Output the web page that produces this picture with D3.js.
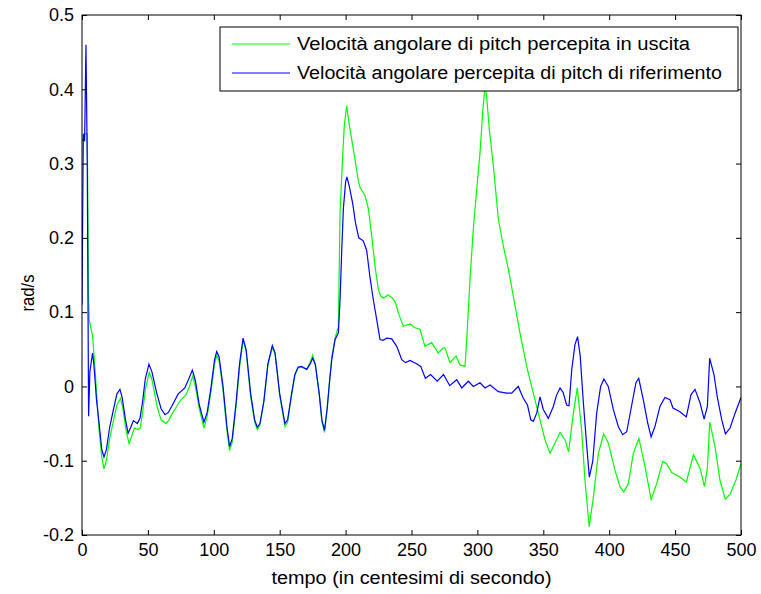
<!DOCTYPE html>
<html><head><meta charset="utf-8">
<script src="https://cdn.jsdelivr.net/npm/d3@7"></script>
<style>body{margin:0;background:#fff}svg{display:block}text{font-family:"Liberation Sans",Arial,sans-serif}</style>
</head><body><svg id="c" width="761" height="594"></svg>
<script>
const xTicks=[0,50,100,150,200,250,300,350,400,450,500];
const yTicks=[-0.2,-0.1,0,0.1,0.2,0.3,0.4,0.5];
const yTickLabels=["-0.2","-0.1","0","0.1","0.2","0.3","0.4","0.5"];
const seriesNames=["Velocità angolare di pitch percepita in uscita","Velocità angolare percepita di pitch di riferimento"];
const seriesColors=["#00ff00","#0000ff"];
const xLabel="tempo (in centesimi di secondo)";
const yLabel="rad/s";

const tempoUscita=[0,2,4,5,5.5,8,10,13,15,16.7,18.5,21,24,26.5,29.3,31,33.5,35.7,37.5,39.7,42.2,44.2,46,48,51,53,57,60,63.7,66,68,71.8,75,79,81.5,84,86,89,92.5,95,98,100.5,102.2,104,107,110,112,114,117,119.5,122.2,124.5,128,131,133,135,138,141,144.4,146.5,150,154,156,159,161.5,164,166.5,170.5,173,175,177,180,182,184,186,188,189.5,192,194.5,195.8,197.8,199,200.8,202.5,204.6,207.1,209.6,210.9,214.7,217.3,219.8,222.3,224.8,226.5,228.6,232.4,236,238,240,243.8,248.9,252.7,256.4,260.2,265.3,270.3,274.1,275.4,279.2,283.8,286.8,290.6,291.9,294.4,296.9,299.5,302,304,305.8,307,309,312.1,315.9,319.7,323.5,327.2,332.3,337.4,342.4,347.5,351.3,355.1,358.9,362.7,366.5,369.2,372.8,375.8,379.1,381.6,384.8,388,391.8,395.8,399.3,404.4,408.2,411,414.5,418.3,422.5,427.2,431.8,436,440.6,443.6,447.4,453.7,458.5,463.9,468.9,472.3,474.5,476.3,480.3,484,488.1,491.7,496.2,500];
const valoriUscita=[0.33,0.34,0.34,0.12,0.09,0.068,0.02,-0.06,-0.095,-0.111,-0.1,-0.07,-0.045,-0.025,-0.016,-0.03,-0.06,-0.077,-0.068,-0.056,-0.058,-0.056,-0.035,-0.005,0.019,0.01,-0.027,-0.045,-0.05,-0.045,-0.038,-0.027,-0.018,-0.011,0,0.014,0,-0.03,-0.056,-0.04,-0.005,0.03,0.042,0.035,-0.005,-0.06,-0.086,-0.075,-0.025,0.025,0.062,0.048,-0.015,-0.048,-0.058,-0.052,-0.02,0.028,0.053,0.043,-0.012,-0.054,-0.048,-0.012,0.015,0.025,0.026,0.023,0.032,0.042,0.03,-0.01,-0.047,-0.062,-0.03,0.01,0.04,0.065,0.08,0.234,0.311,0.351,0.378,0.355,0.333,0.306,0.277,0.268,0.257,0.239,0.203,0.162,0.131,0.122,0.119,0.123,0.118,0.112,0.099,0.081,0.084,0.079,0.077,0.054,0.059,0.045,0.052,0.052,0.032,0.041,0.029,0.027,0.063,0.144,0.212,0.266,0.315,0.369,0.405,0.39,0.347,0.297,0.225,0.189,0.158,0.122,0.072,0.027,-0.009,-0.045,-0.072,-0.09,-0.076,-0.062,-0.072,-0.088,-0.036,-0.002,-0.059,-0.126,-0.189,-0.149,-0.09,-0.064,-0.076,-0.113,-0.135,-0.142,-0.131,-0.09,-0.07,-0.108,-0.152,-0.131,-0.101,-0.104,-0.116,-0.122,-0.129,-0.092,-0.11,-0.135,-0.11,-0.048,-0.081,-0.126,-0.152,-0.145,-0.126,-0.104];

const tempoRif=[0,1,2,3,4,5,6,8,9,11,13,15,16.7,18.5,21,24,26.5,28.8,30.5,33,35,37,39,42,44,46,48,50.8,53,56.7,60,63,65.5,68,73,78,81,83.7,86,89,92.5,95,98,100.5,102.2,104,107,110,112,114,117,119.5,122.2,124.5,128,131,133,135,138,141,144.4,146.5,150,154,156,159,161.5,164,166.5,170.5,173,175,177,180,182,184,186,188,189.5,192,194.5,195.8,197,198.3,200,201,203,205.5,207.5,210,213.4,216,218.5,221,223.6,226.1,228.5,231.2,235,238.8,242.6,245.5,248.9,253.5,257,260.5,264.5,269.5,274.3,279,284.3,288.1,293.1,296.9,302,305.8,309.6,315.9,322.2,326,331,334.8,338,340.5,342.4,345,347.5,350,353.8,357.6,360,362.7,365,367.7,369.5,371.6,374,376,378,380.4,383,384.9,387.5,390.5,393.5,396,399.3,403.1,406.9,410.2,413.3,417.1,420.3,422.4,425.9,429.2,431.8,434.7,438.5,442.3,446.1,448.4,453.7,458.5,462.1,465.1,468.9,472,474.5,476.2,479.5,482,485.4,488.2,491.7,495.5,500];
const valoriRif=[0.11,0.34,0.33,0.46,0.3,-0.04,0.02,0.045,0.03,-0.018,-0.05,-0.085,-0.095,-0.085,-0.055,-0.03,-0.01,-0.004,-0.015,-0.045,-0.063,-0.055,-0.046,-0.05,-0.043,-0.02,0.01,0.03,0.02,-0.009,-0.03,-0.038,-0.035,-0.027,-0.01,-0.002,0.01,0.022,0.008,-0.025,-0.048,-0.035,0,0.035,0.047,0.04,0,-0.055,-0.081,-0.07,-0.02,0.03,0.065,0.05,-0.01,-0.045,-0.055,-0.05,-0.02,0.03,0.055,0.045,-0.01,-0.05,-0.045,-0.01,0.016,0.026,0.027,0.023,0.03,0.038,0.03,-0.01,-0.045,-0.059,-0.03,0.01,0.036,0.063,0.072,0.117,0.18,0.239,0.275,0.282,0.268,0.245,0.22,0.2,0.196,0.183,0.147,0.117,0.09,0.063,0.062,0.065,0.064,0.054,0.036,0.032,0.035,0.031,0.027,0.011,0.016,0.007,0.016,0.001,0.009,-0.002,0.007,0,0.005,-0.002,0.002,-0.007,-0.009,-0.009,0,-0.016,-0.025,-0.045,-0.047,-0.036,-0.014,-0.031,-0.043,-0.027,-0.012,-0.002,-0.008,-0.025,-0.026,0.023,0.056,0.067,0.041,-0.022,-0.081,-0.122,-0.101,-0.036,0,0.01,0,-0.031,-0.054,-0.065,-0.061,-0.025,0.005,0.011,-0.018,-0.049,-0.068,-0.054,-0.027,-0.015,-0.018,-0.029,-0.034,-0.041,-0.011,-0.004,-0.022,-0.044,-0.027,0.038,0.016,-0.014,-0.045,-0.064,-0.056,-0.036,-0.015];

const L=82,R=741,T=15,B=535;
const x=d3.scaleLinear().domain([0,500]).range([L,R]);
const y=d3.scaleLinear().domain([-0.2,0.5]).range([B,T]);
const svg=d3.select("#c");
svg.append("rect").attr("width",761).attr("height",594).attr("fill","#fff");

svg.append("clipPath").attr("id","clp").append("rect").attr("x",L).attr("y",T).attr("width",R-L).attr("height",B-T);
const line=d3.line().x(d=>x(d[0])).y(d=>y(d[1]));
const dataU=tempoUscita.map((t,i)=>[t,valoriUscita[i]]);
const dataR=tempoRif.map((t,i)=>[t,valoriRif[i]]);
const g=svg.append("g").attr("clip-path","url(#clp)");
g.append("path").datum(dataU).attr("d",line).attr("fill","none").attr("stroke",seriesColors[0]).attr("stroke-width",1.2);
g.append("path").datum(dataR).attr("d",line).attr("fill","none").attr("stroke",seriesColors[1]).attr("stroke-width",1.2);

const fs=18;
const axB=svg.append("g").attr("transform",`translate(0,${B})`).call(d3.axisBottom(x).tickValues(xTicks).tickSize(-5).tickPadding(8).tickFormat(d3.format("d")));
const axT=svg.append("g").attr("transform",`translate(0,${T})`).call(d3.axisTop(x).tickValues(xTicks).tickSize(-5).tickFormat(""));
const axL=svg.append("g").attr("transform",`translate(${L},0)`).call(d3.axisLeft(y).tickValues(yTicks).tickSize(-5).tickPadding(8).tickFormat((d,i)=>yTickLabels[i]));
const axR=svg.append("g").attr("transform",`translate(${R},0)`).call(d3.axisRight(y).tickValues(yTicks).tickSize(-5).tickFormat(""));
[axB,axT,axL,axR].forEach(a=>{a.selectAll("path").remove();a.selectAll("line").attr("stroke","#000");a.selectAll("text").attr("font-size",fs).attr("fill","#000").attr("font-family","Liberation Sans, Arial, sans-serif");});
svg.append("rect").attr("x",L).attr("y",T).attr("width",R-L).attr("height",B-T).attr("fill","none").attr("stroke","#000").attr("stroke-width",1);

svg.append("text").attr("x",(L+R)/2).attr("y",584).attr("text-anchor","middle").attr("font-size",18).attr("textLength",280).attr("lengthAdjust","spacingAndGlyphs").text(xLabel);
svg.append("text").attr("transform",`translate(34,293) rotate(-90)`).attr("text-anchor","middle").attr("font-size",18).attr("textLength",37).attr("lengthAdjust","spacingAndGlyphs").text(yLabel);

const lg=svg.append("g");
lg.append("rect").attr("x",220).attr("y",27).attr("width",518).attr("height",64).attr("fill","#fff").attr("stroke","#000").attr("stroke-width",1);
const legW=[393,425];
[44,73].forEach((yy,i)=>{
  lg.append("line").attr("x1",232).attr("x2",290).attr("y1",yy).attr("y2",yy).attr("stroke",seriesColors[i]).attr("stroke-width",1.2);
  lg.append("text").attr("x",297).attr("y",yy+6).attr("font-size",18).attr("textLength",legW[i]).attr("lengthAdjust","spacingAndGlyphs").text(seriesNames[i]);
});
</script></body></html>
